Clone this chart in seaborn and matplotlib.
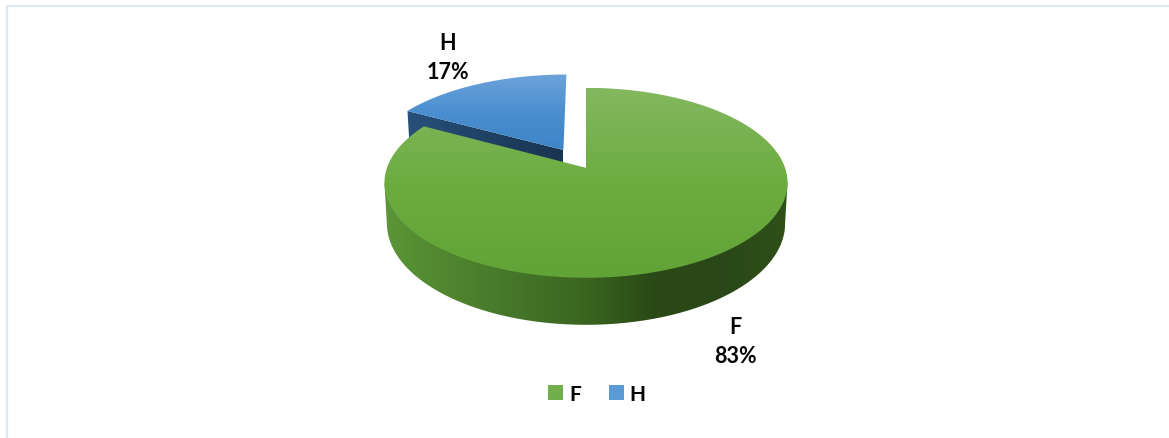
import numpy as np
import matplotlib
matplotlib.use("Agg")
import matplotlib.pyplot as plt
import seaborn as sns
from matplotlib.patches import Patch, Polygon

# dados do grafico
categorias = ["F", "H"]
percentuais = [83, 17]
rotulos = ["F\n83%", "H\n17%"]
explosao = [0, 0.23]
cores_legenda = ["#72AE4B", "#5B9BD5"]

# cores de cada face (topo claro -> topo escuro, parede lateral)
topo_cores = [["#84B860", "#6CAC40", "#62A338"], ["#6EA3DA", "#4A8FD0", "#3E84C6"]]
lateral_verde = ["#5C9539", "#4F852E", "#44752A", "#3A651F", "#294916", "#294718", "#2F5019"]
parede_azul = ["#27507A", "#19344F"]

sns.set_theme(style="white")
plt.rcParams["font.family"] = ["Lato", "DejaVu Sans"]

W, H = 1169, 439

# ------------------------------------------------------------
# geometria da pizza em perspectiva (pixels da imagem)
# ------------------------------------------------------------
cx, cy = 586.0, 168.8
escala_x, escala_y = 199.0, 92.6
k = 0.158
profundidade = 39.6


def projeta(x, y, desce=0.0):
    d = 1 + k * y
    encolhe = 1 - 0.012 * (desce > 0)
    return cx + encolhe * escala_x * x / d, cy - escala_y * y / d + desce / d


def gradiente(ax, cores, patch, extent, vertical=True):
    # preenche o poligono com uma imagem em degrade
    rampa = np.array(sns.blend_palette(cores, 256))
    img = rampa[:, None, :3] if vertical else rampa[None, :, :3]
    im = ax.imshow(img, extent=extent, aspect="auto", interpolation="bilinear", zorder=patch.get_zorder())
    ax.add_patch(patch)
    patch.set_visible(False)
    im.set_clip_path(patch)
    return im


fig = plt.figure(figsize=(W / 100, H / 100), dpi=100)
ax = fig.add_axes([0, 0, 1, 1])

# a pizza do matplotlib calcula os angulos e a explosao de cada fatia
fatias, _ = ax.pie(percentuais, explode=explosao, startangle=90, counterclock=False, normalize=True)
geo = [(np.radians(w.theta1), np.radians(w.theta2), w.center, w.r) for w in fatias]
for w in fatias:
    w.remove()

ax.set_aspect("auto")
ax.set_xlim(0, W)
ax.set_ylim(H, 0)
ax.axis("off")

# moldura clara (so topo e esquerda)
ax.plot([7, 7, W], [H, 6.5, 6.5], color="#E3E7EE", lw=1.6, solid_joinstyle="miter", zorder=1)

ordem_z = {0: 10, 1: 5}  # fatia H fica atras da F

for i, (t1, t2, centro, r) in enumerate(geo):
    t = np.linspace(t1, t2, 400)
    ux = centro[0] + r * np.cos(t)
    uy = centro[1] + r * np.sin(t)
    px, py = projeta(ux, uy)
    bx, by = projeta(ux, uy, profundidade)
    ax0, ay0 = projeta(centro[0], centro[1])
    z = ordem_z[i]

    if i == 0:
        # parede externa da fatia F: arco de baixo + extremos do arco de cima
        a, b = np.argmin(bx), np.argmax(bx)
        contorno = np.r_[[(px[np.argmin(px)], py[np.argmin(px)])],
                         np.c_[bx[a:b + 1], by[a:b + 1]],
                         [(px[np.argmax(px)], py[np.argmax(px)])]]
        parede = Polygon(contorno, closed=True, zorder=z)
        gradiente(ax, lateral_verde, parede, (px.min(), px.max(), by.max(), py.min()), vertical=False)
    else:
        # parede do corte da fatia H
        j = np.argmin(px)
        qx, qy = px[j], py[j]
        fx, fy = bx[j], by[j]
        dx0, dy0 = projeta(centro[0], centro[1], profundidade)
        parede = Polygon([(qx, qy), (ax0, ay0), (dx0, dy0), (fx, fy)], closed=True, zorder=z)
        gradiente(ax, parede_azul, parede, (qx, ax0, max(fy, dy0), min(qy, ay0)), vertical=False)

    # face de cima
    topo = Polygon(np.r_[[(ax0, ay0)], np.c_[px, py]], closed=True, zorder=z + 1)
    y_ini, y_fim = py.min(), max(py.max(), ay0)
    gradiente(ax, topo_cores[i], topo, (px.min() - 1, max(px.max(), ax0) + 1, y_fim, y_ini))

ax.set_xlim(0, W)
ax.set_ylim(H, 0)

# rotulos de dados
pos_rotulos = [(735, 342), (447.5, 58)]
for txt, (x, y) in zip(rotulos, pos_rotulos):
    ax.text(x, y, txt, ha="center", va="center", fontsize=15.5, fontweight="bold",
            color="#050505", linespacing=1.42, zorder=20)

# legenda
handles = [Patch(facecolor=c, edgecolor="none") for c in cores_legenda]
leg = ax.legend(handles, categorias, loc="center", bbox_to_anchor=(597 / W, 1 - 395 / H), ncol=2,
                frameon=False, handlelength=0.7, handleheight=0.7, handletextpad=0.3,
                columnspacing=1.35, prop={"size": 15, "weight": "bold"})
for t in leg.get_texts():
    t.set_color("#050505")

fig.savefig("out.png", dpi=100, facecolor="white")
